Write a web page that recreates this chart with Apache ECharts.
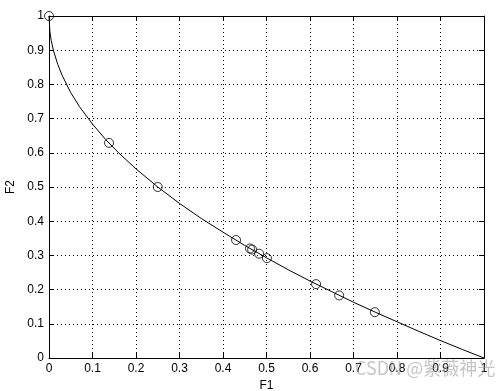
<!DOCTYPE html>
<html>
<head>
<meta charset="utf-8">
<script src="https://cdn.jsdelivr.net/npm/echarts@6/dist/echarts.min.js"></script>
<style>html,body{margin:0;padding:0;background:#fff}#c{width:501px;height:391px}</style>
</head>
<body>
<div id="c"></div>
<script>
// Pareto front curve (F1, F2)
var curveF1 = [0, 0.002, 0.005, 0.01, 0.02, 0.03, 0.05, 0.07, 0.1, 0.13, 0.16, 0.2, 0.25, 0.3, 0.35, 0.4, 0.45, 0.5, 0.55, 0.6, 0.65, 0.7, 0.75, 0.8, 0.85, 0.9, 0.95, 1.0];
var curveF2 = [1, 0.955, 0.929, 0.9, 0.859, 0.827, 0.776, 0.735, 0.684, 0.639, 0.6, 0.553, 0.5, 0.452, 0.408, 0.368, 0.329, 0.293, 0.258, 0.225, 0.194, 0.163, 0.134, 0.106, 0.078, 0.051, 0.025, 0];
// Solutions (circles)
var pointF1 = [0, 0.138, 0.25, 0.43, 0.462, 0.467, 0.483, 0.501, 0.614, 0.667, 0.749];
var pointF2 = [1, 0.629, 0.5, 0.345, 0.32, 0.317, 0.305, 0.292, 0.216, 0.183, 0.134];
var xTicks = {min: 0, max: 1, interval: 0.1};
var yTicks = {min: 0, max: 1, interval: 0.1};
var xName = 'F1', yName = 'F2';
var watermark = 'CSDN @紫薇神光';

var curve = curveF1.map(function (x, i) { return [x, curveF2[i]]; });
var pts = pointF1.map(function (x, i) { return [x, pointF2[i]]; });
var font = 'Liberation Sans, Arial, sans-serif';
var axisCommon = {
  type: 'value',
  axisLine: {show: true, onZero: false, lineStyle: {color: '#000', width: 1}},
  axisTick: {show: true, inside: true, length: 5, lineStyle: {color: '#000'}},
  splitLine: {show: true, lineStyle: {color: '#000', type: [1, 3], width: 1}}
};
function ax(base, extra) { return Object.assign({}, axisCommon, base, extra); }

var chart = echarts.init(document.getElementById('c'), null, {renderer: 'canvas'});
chart.setOption({
  animation: false,
  backgroundColor: '#fff',
  grid: {left: 49, top: 16, right: 17, bottom: 33, containLabel: false, outerBoundsMode: 'none'},
  xAxis: [
    ax(xTicks, {position: 'bottom', name: xName, nameLocation: 'middle', nameGap: 22,
      nameTextStyle: {color: '#000', fontSize: 12, fontFamily: font},
      axisLabel: {color: '#000', fontSize: 12, fontFamily: font, margin: 5}}),
    ax(xTicks, {position: 'top', splitLine: {show: false}, axisLabel: {show: false}})
  ],
  yAxis: [
    ax(yTicks, {position: 'left', name: yName, nameLocation: 'middle', nameGap: 32, nameRotate: 90,
      nameTextStyle: {color: '#000', fontSize: 12, fontFamily: font},
      axisLabel: {color: '#000', fontSize: 12, fontFamily: font, margin: 5}}),
    ax(yTicks, {position: 'right', splitLine: {show: false}, axisLabel: {show: false}})
  ],
  series: [
    {type: 'line', data: curve, showSymbol: false, symbol: 'none', lineStyle: {color: '#000', width: 1}, z: 3},
    {type: 'scatter', data: pts, symbol: 'circle', symbolSize: 9,
      itemStyle: {color: 'rgba(0,0,0,0)', borderColor: '#000', borderWidth: 1}, z: 4}
  ],
  graphic: [{
    type: 'text', left: 355, top: 359, z: 100,
    style: {text: watermark, fontSize: 18, fontFamily: 'Noto Sans CJK SC, sans-serif', fill: 'rgba(150,150,150,0.55)'}
  }]
});
</script>
</body>
</html>
